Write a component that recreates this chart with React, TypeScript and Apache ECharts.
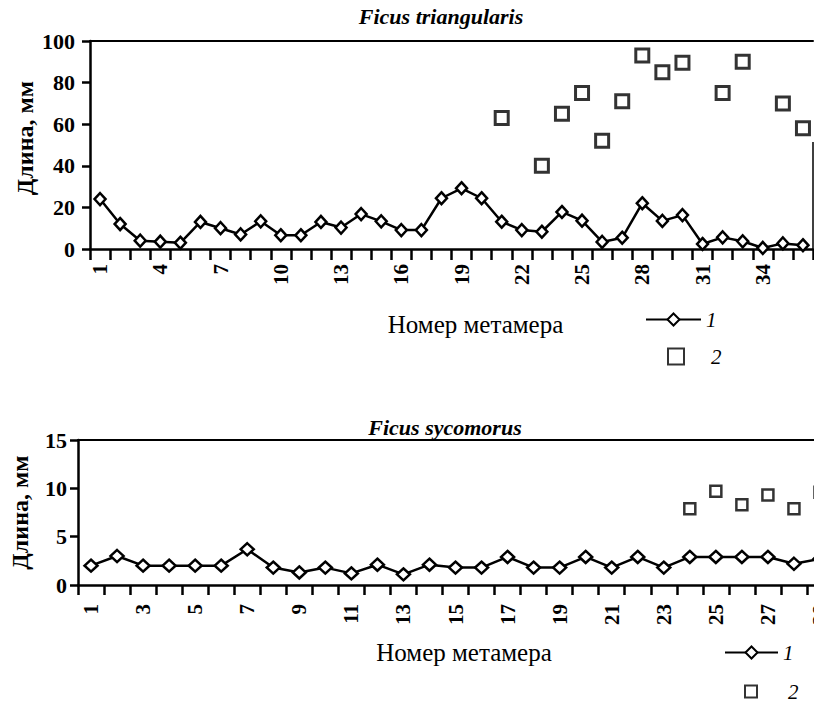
import React, { useEffect, useRef } from "react";
import * as echarts from "echarts";

const topCategories = ["1","2","3","4","5","6","7","8","9","10","11","12","13","14","15","16","17","18","19","20","21","22","23","24","25","26","27","28","29","30","31","32","33","34","35","36"];
const topSeries1 = [24, 12, 4, 3.5, 3, 13, 10, 7, 13.3, 6.6, 6.6, 13, 10.3, 16.8, 13.3, 9.1, 9.1, 24.4, 29.2, 24.4, 13.1, 9.1, 8.3, 17.8, 13.6, 3.4, 5.4, 22, 13.5, 16.3, 2.4, 5.6, 3.7, 0.5, 2.7, 1.8];
const topSeries2 = [null, null, null, null, null, null, null, null, null, null, null, null, null, null, null, null, null, null, null, null, 63, null, 40, 65, 75, 52, 71, 93, 85, 89.6, null, 75, 90, null, 70, 58];

const bottomCategories = ["1","2","3","4","5","6","7","8","9","10","11","12","13","14","15","16","17","18","19","20","21","22","23","24","25","26","27","28","29"];
const bottomSeries1 = [2.0, 3.0, 2.0, 2.0, 2.0, 2.0, 3.7, 1.8, 1.3, 1.8, 1.2, 2.1, 1.1, 2.1, 1.8, 1.8, 2.9, 1.8, 1.8, 2.9, 1.8, 2.9, 1.8, 2.9, 2.9, 2.9, 2.9, 2.2, 2.7];
const bottomSeries2 = [null, null, null, null, null, null, null, null, null, null, null, null, null, null, null, null, null, null, null, null, null, null, null, 7.9, 9.7, 8.3, 9.3, 7.9, 9.6];

const topTitle = "Ficus triangularis";
const bottomTitle = "Ficus sycomorus";
const xName = "Номер метамера";
const yName = "Длина, мм";

const FONT = '"Liberation Serif", "DejaVu Serif", serif';

export default function App() {
  const ref = useRef<HTMLDivElement>(null);
  useEffect(() => {
    if (!ref.current) return;
    const chart = echarts.init(ref.current, null, { renderer: "svg" });
    const axisLine = { show: true, lineStyle: { color: "#000", width: 2.5 } };
    const lineItem = { color: "#fff", borderColor: "#000", borderWidth: 2.5 };
    const sqItem = { color: "#fff", borderColor: "#000", borderWidth: 3 };
    const titleStyle = { fontFamily: FONT, fontSize: 22, fontStyle: "italic", fontWeight: "bold", color: "#000" };
    const legendText = { fontFamily: FONT, fontSize: 21, fontStyle: "italic", color: "#000" };
    const option: any = {
      animation: false,
      backgroundColor: "#fff",
      textStyle: { fontFamily: FONT, color: "#000" },
      title: [
        { text: topTitle, left: 436, top: 0, textAlign: "center", textStyle: titleStyle },
        { text: bottomTitle, left: 440, top: 411, textAlign: "center", textStyle: titleStyle },
      ],
      legend: [
        { data: ["1"], left: 640, top: 304, itemWidth: 55, itemHeight: 15, orient: "vertical", selectedMode: false, textStyle: legendText },
        { data: ["2"], left: 662, top: 341, itemWidth: 16, itemHeight: 16, orient: "vertical", selectedMode: false, textStyle: { ...legendText, padding: [0, 0, 0, 22] } },
        { data: ["1"], left: 719, top: 637, itemWidth: 53, itemHeight: 15, orient: "vertical", selectedMode: false, textStyle: legendText },
        { data: ["2"], left: 739, top: 676, itemWidth: 12, itemHeight: 12, orient: "vertical", selectedMode: false, textStyle: { ...legendText, padding: [0, 0, 0, 26] } },
      ],
      grid: [
        { left: 90, top: 41, width: 723, height: 208 },
        { left: 66, top: 440, width: 767, height: 145 },
      ],
      xAxis: [
        {
          type: "category", gridIndex: 0, data: topCategories, boundaryGap: true,
          axisLine, axisTick: { show: true, interval: 0, length: 11, lineStyle: { color: "#000", width: 2.5 } },
          axisLabel: { interval: 2, rotate: 90, margin: 15, fontSize: 21, fontWeight: "bold", color: "#000", fontFamily: FONT },
          name: xName, nameLocation: "middle", nameGap: 63,
          nameTextStyle: { fontFamily: FONT, fontSize: 25, color: "#000", verticalAlign: "top", padding: [0, 0, 0, 48] },
          splitLine: { show: false },
        },
        {
          type: "category", gridIndex: 0, data: topCategories, position: "top",
          axisLine: { show: true, lineStyle: { color: "#000", width: 2 } },
          axisTick: { show: false }, axisLabel: { show: false }, splitLine: { show: false },
        },
        {
          type: "category", gridIndex: 1, data: bottomCategories, boundaryGap: true,
          axisLine, axisTick: { show: true, interval: 0, length: 10, lineStyle: { color: "#000", width: 2.5 } },
          axisLabel: { interval: 1, rotate: 90, margin: 19, fontSize: 21, fontWeight: "bold", color: "#000", fontFamily: FONT },
          name: xName, nameLocation: "middle", nameGap: 55,
          nameTextStyle: { fontFamily: FONT, fontSize: 25, color: "#000", verticalAlign: "top", padding: [0, 0, 0, 17] },
          splitLine: { show: false },
        },
        {
          type: "category", gridIndex: 1, data: bottomCategories, position: "top",
          axisLine: { show: true, lineStyle: { color: "#000", width: 2 } },
          axisTick: { show: false }, axisLabel: { show: false }, splitLine: { show: false },
        },
      ],
      yAxis: [
        {
          type: "value", gridIndex: 0, min: 0, max: 100, interval: 20,
          axisLine, axisTick: { show: true, length: 8, lineStyle: { color: "#000", width: 2.5 } },
          axisLabel: { margin: 15, fontSize: 22, fontWeight: "bold", color: "#000", fontFamily: FONT },
          splitLine: { show: false },
          name: yName, nameLocation: "middle", nameGap: 53, nameMoveOverlap: false,
          nameTextStyle: { fontFamily: FONT, fontSize: 24, fontWeight: "bold", color: "#000", padding: [0, 0, 0, 14] },
        },
        {
          type: "value", gridIndex: 1, min: 0, max: 15, interval: 5,
          axisLine, axisTick: { show: true, length: 8, lineStyle: { color: "#000", width: 2.5 } },
          axisLabel: { margin: 11, fontSize: 22, fontWeight: "bold", color: "#000", fontFamily: FONT },
          splitLine: { show: false },
          name: yName, nameLocation: "middle", nameGap: 46, nameMoveOverlap: false,
          nameTextStyle: { fontFamily: FONT, fontSize: 24, fontWeight: "bold", color: "#000" },
        },
      ],
      series: [
        {
          name: "1", type: "line", xAxisIndex: 0, yAxisIndex: 0, data: topSeries1,
          symbol: "diamond", symbolSize: [11, 12], showAllSymbol: true,
          lineStyle: { color: "#000", width: 2.5 }, itemStyle: lineItem, z: 3,
        },
        {
          name: "2", type: "scatter", xAxisIndex: 0, yAxisIndex: 0, data: topSeries2,
          symbol: "rect", symbolSize: 13, itemStyle: sqItem, z: 3,
        },
        {
          name: "1", type: "line", xAxisIndex: 2, yAxisIndex: 1, data: bottomSeries1,
          symbol: "diamond", symbolSize: [13, 12], showAllSymbol: true,
          lineStyle: { color: "#000", width: 2.5 }, itemStyle: lineItem, z: 3,
        },
        {
          name: "2", type: "scatter", xAxisIndex: 2, yAxisIndex: 1, data: bottomSeries2,
          symbol: "rect", symbolSize: 11, itemStyle: { color: "#fff", borderColor: "#000", borderWidth: 2.5 }, z: 3,
        },
      ],
      graphic: [
        { type: "line", shape: { x1: 813, y1: 142, x2: 813, y2: 249 }, style: { stroke: "#000", lineWidth: 1.5 } },
      ],
    };
    chart.setOption(option);
    return () => chart.dispose();
  }, []);
  return (
    <div style={{ position: "fixed", left: 0, top: 0, width: 814, height: 708, overflow: "hidden", background: "#fff" }}>
      <div ref={ref} style={{ width: 900, height: 708 }} />
    </div>
  );
}
